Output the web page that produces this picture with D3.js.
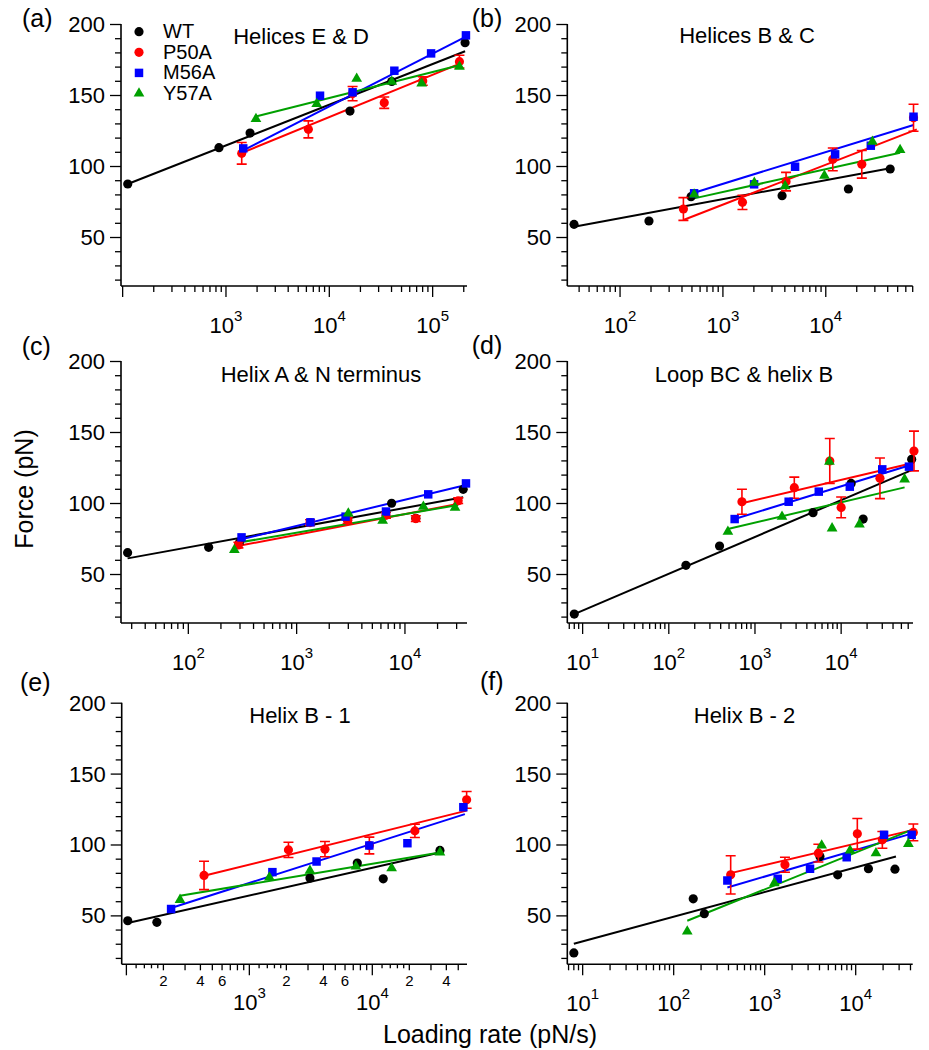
<!DOCTYPE html>
<html>
<head>
<meta charset="utf-8">
<script src="https://cdn.jsdelivr.net/npm/d3@7"></script>
<style>
  html, body { margin: 0; padding: 0; background: #fff; }
  svg { display: block; font-family: "Liberation Sans", Arial, Helvetica, sans-serif; }
</style>
</head>
<body>
<svg id="chart" width="929" height="1050"></svg>
<script>
// ---------------- data ----------------
const SERIES = ["WT", "P50A", "M56A", "Y57A"];
const COLORS = ["#000000", "#ff0000", "#0000ff", "#00a000"];
const SHAPES = ["circle", "circle", "square", "triangle"];

const PANEL_IDS = ["(a)", "(b)", "(c)", "(d)", "(e)", "(f)"];
const PANEL_TITLES = ["Helices E & D", "Helices B & C", "Helix A & N terminus",
                      "Loop BC & helix B", "Helix B - 1", "Helix B - 2"];
const X_DOMAINS = [[96.4, 2.15e5], [30.7, 7.0e4], [23.9, 3.74e4],
                   [6.64, 6.82e4], [91.6, 5.89e4], [6.78, 4.23e4]];
const Y_DOMAIN = [15.5, 200];
const Y_TICK_LABELS = [50, 100, 150, 200];
const X_TICK_LABELS = [[1e3, 1e4, 1e5], [1e2, 1e3, 1e4], [1e2, 1e3, 1e4],
                       [1e1, 1e2, 1e3, 1e4], [1e3, 1e4], [1e1, 1e2, 1e3, 1e4]];
const E_MINOR_LABELS = [200, 400, 600, 2000, 4000, 6000, 20000, 40000];

// points: [loading rate, force, error]
const A_WT   = [[112, 87.3], [855, 112.9], [1710, 123.2], [15850, 138.7], [40200, 159.5], [206000, 186.8]];
const A_P50A = [[1420, 108.9, 7.6], [6270, 125.8, 6], [16800, 151, 5], [34000, 144.6, 4], [80200, 159.9, 3], [181600, 173.5, 4.5]];
const A_M56A = [[1470, 112.4], [8130, 149.5], [16800, 151.9], [42600, 167.1], [96600, 179.3], [210000, 192]];
const A_Y57A = [[1950, 133.1], [7550, 143.7], [18400, 161.5], [40200, 159.4], [78300, 158.2], [181600, 170]];
const A_FIT  = [[[112, 87.3], [206000, 180.8]], [[1390, 108.9], [186000, 172.3]],
                [[1390, 110.1], [210000, 191.1]], [[1900, 134.7], [186000, 171.1]]];

const B_WT   = [[35.7, 58.9], [191, 61.3], [490, 78.4], [3760, 79.1], [16600, 83.8], [42300, 97.9]];
const B_P50A = [[413, 69.7, 8], [1549, 74.4, 5], [4110, 89, 6.5], [11700, 104.7, 8], [22400, 101.2, 9.7], [71300, 134, 9.5]];
const B_M56A = [[525, 80.8], [2010, 87.1], [5030, 99.5], [12330, 108.2], [27400, 114.3], [71300, 134.7]];
const B_Y57A = [[525, 80], [2020, 88.2], [4030, 85.9], [9700, 93.2], [28400, 117.1], [52800, 111.3]];
const B_FIT  = [[[35.7, 57.3], [42300, 98.4]], [[413, 62], [76700, 125.8]],
                [[525, 81.2], [71300, 128.9]], [[525, 77.2], [52800, 109.4]]];

const C_WT   = [[27.5, 65], [154, 68.8], [296, 72.1], [2960, 88], [7530, 99.8], [12600, 89.2], [34500, 109.6]];
const C_P50A = [[290, 70.4, 2], [1330, 86.2, 2], [2960, 87.6, 2], [6680, 91.3, 2], [12600, 89, 2], [31000, 101.6, 2]];
const C_M56A = [[310, 75.8], [1340, 86.4], [2830, 90.4], [6680, 94], [16400, 106.1], [36600, 113.8]];
const C_Y57A = [[266, 66.9], [3000, 92.7], [6220, 87.6], [14800, 97.4], [29000, 96.7]];
const C_FIT  = [[[27.5, 61], [34500, 104]], [[270, 69.3], [33300, 99.8]],
                [[290, 74], [36600, 112.7]], [[266, 71.6], [31000, 98.6]]];

const D_WT   = [[8, 21.8], [158, 56.1], [388, 69.7], [4720, 93.2], [13060, 113.8], [18000, 88.7], [65800, 130.8]];
const D_P50A = [[706, 100.9, 8.8], [2860, 110.8, 7.4], [7380, 129.6, 15.8], [10000, 96.9, 7.3], [28200, 117.4, 14.3], [70000, 136.6, 14]];
const D_M56A = [[581, 88.7], [2460, 100.9], [5500, 108], [12600, 111.5], [30000, 123.7], [61200, 125.6]];
const D_Y57A = [[485, 79.8], [2060, 90.4], [7310, 129.1], [7850, 82.2], [16300, 85], [54500, 116.7]];
const D_FIT  = [[[8, 21.8], [65800, 123.2]], [[706, 99.8], [70000, 128.4]],
                [[581, 88.7], [64000, 126.8]], [[485, 81.7], [54500, 111]]];

const E_WT   = [[102.6, 46.2], [177, 45.1], [3110, 76.3], [7550, 86.9], [12270, 75.8], [35500, 95.8]];
const E_P50A = [[428, 78.2, 10], [2080, 96.2, 5.4], [4120, 96.7, 5.4], [9460, 99.3, 5.9], [22200, 109.6, 4.7], [58500, 131.5, 5.9]];
const E_M56A = [[231, 54.5], [1540, 80.5], [3520, 88], [9460, 99.3], [19300, 100.9], [55000, 126.3]];
const E_Y57A = [[273, 61], [1455, 76.8], [3110, 81.5], [7360, 84.5], [14360, 83.3], [35500, 94.4]];
const E_FIT  = [[[102.6, 44.6], [35500, 94.4]], [[428, 77.9], [58500, 123.9]],
                [[231, 55.2], [56600, 121.4]], [[273, 63.8], [35500, 94.4]]];

const F_WT   = [[8, 23.5], [164, 61.7], [217, 51.2], [4050, 91.5], [6340, 78.6], [13800, 82.9], [27000, 82.6]];
const F_P50A = [[423, 78.6, 13.5], [1670, 85.7, 5.3], [3890, 93.9, 6.3], [10420, 107.5, 10.8], [19630, 103.3, 5.9], [43000, 108.5, 5.9]];
const F_M56A = [[389, 74.6], [1390, 75.8], [3150, 82.9], [7960, 91], [20500, 106.8], [41200, 106.8]];
const F_Y57A = [[141, 38.7], [1277, 72.8], [4230, 99.3], [8670, 95.8], [16700, 93.9], [37900, 100.5]];
const F_FIT  = [[[8, 30], [27700, 91.5]], [[423, 79.8], [43000, 110.3]],
                [[389, 69.7], [43000, 108]], [[141, 46.2], [41200, 110.3]]];

const PANEL_DATA = [
  [A_WT, A_P50A, A_M56A, A_Y57A], [B_WT, B_P50A, B_M56A, B_Y57A], [C_WT, C_P50A, C_M56A, C_Y57A],
  [D_WT, D_P50A, D_M56A, D_Y57A], [E_WT, E_P50A, E_M56A, E_Y57A], [F_WT, F_P50A, F_M56A, F_Y57A]];
const PANEL_FITS = [A_FIT, B_FIT, C_FIT, D_FIT, E_FIT, F_FIT];

// ---------------- layout ----------------
const LAYOUT = [
  {l: 121,   r: 467,   t: 24,    b: 286,   lx: 22,    ly: 27,    tx: 301,   ty: 44},
  {l: 567.3, r: 912.7, t: 24,    b: 286,   lx: 471.7, ly: 27,    tx: 747,   ty: 43},
  {l: 121,   r: 467,   t: 361,   b: 623,   lx: 21.7,  ly: 355,   tx: 321,   ty: 382},
  {l: 567.3, r: 913,   t: 361,   b: 623,   lx: 471.7, ly: 354,   tx: 744,   ty: 382},
  {l: 121.7, r: 467,   t: 702.7, b: 964.3, lx: 20,    ly: 690.7, tx: 300,   ty: 723},
  {l: 567.3, r: 912.7, t: 702.7, b: 964.3, lx: 480,   ly: 690,   tx: 744.5, ty: 723}
];

const svg = d3.select("#chart");
const FONT = 22;

function symbolFor(shape) {
  if (shape === "square") return d3.symbol(d3.symbolSquare, 72)();
  if (shape === "triangle") return d3.symbol(d3.symbolTriangle, 50)();
  return d3.symbol(d3.symbolCircle, 66)();
}

PANEL_DATA.forEach((series, pi) => {
  const L = LAYOUT[pi];
  const x = d3.scaleLog().domain(X_DOMAINS[pi]).range([L.l, L.r]);
  const y = d3.scaleLinear().domain(Y_DOMAIN).range([L.b, L.t]);
  const g = svg.append("g");

  // ---- y axis ----
  const yAxis = d3.axisLeft(y)
    .tickValues(d3.range(20, 201, 10))
    .tickSizeOuter(0)
    .tickSize(6)
    .tickFormat(d => Y_TICK_LABELS.includes(d) ? d : "");
  const ya = g.append("g").attr("transform", `translate(${L.l},0)`).call(yAxis);
  ya.select(".domain").attr("d", `M0,${L.t}V${L.b}`).attr("stroke-width", 1.6);
  ya.selectAll(".tick line").attr("stroke-width", 1.3)
    .attr("x2", d => Y_TICK_LABELS.includes(d) ? -11 : -6);
  ya.selectAll(".tick text").attr("x", -16).attr("dy", null).attr("y", 7.5)
    .attr("font-size", FONT).attr("fill", "#000").attr("font-family", null);
  ya.attr("font-family", null);

  // ---- x axis ----
  const [d0, d1] = X_DOMAINS[pi];
  const ticks = [];
  for (let n = Math.floor(Math.log10(d0)); n <= Math.ceil(Math.log10(d1)); n++) {
    const ks = pi === 4 ? [1, 1.2, 1.4, 1.6, 1.8, 2, 3, 4, 5, 6, 7, 8, 9] : [1, 2, 3, 4, 5, 6, 7, 8, 9];
    ks.forEach(k => {
      const v = k * Math.pow(10, n);
      if (v >= d0 && v <= d1) ticks.push({v, k});
    });
  }
  const xa = g.append("g");
  xa.append("line").attr("x1", L.l).attr("x2", L.r).attr("y1", L.b).attr("y2", L.b)
    .attr("stroke", "#000").attr("stroke-width", 1.6);
  xa.selectAll("line.tk").data(ticks).join("line").attr("class", "tk")
    .attr("x1", d => x(d.v)).attr("x2", d => x(d.v))
    .attr("y1", L.b).attr("y2", d => L.b + (d.k === 1 ? 11 : (d.k % 1 !== 0 ? 4 : 6)))
    .attr("stroke", "#000").attr("stroke-width", 1.3);

  const majorY = L.b + (pi === 4 ? 46 : 47);
  const lab = xa.selectAll("text.maj").data(X_TICK_LABELS[pi]).join("text").attr("class", "maj")
    .attr("x", d => x(d)).attr("y", majorY).attr("text-anchor", "middle")
    .attr("font-size", FONT).attr("fill", "#000");
  lab.append("tspan").text("10");
  lab.append("tspan").attr("dy", -12).attr("font-size", 15).text(d => Math.round(Math.log10(d)));

  if (pi === 4) {
    xa.selectAll("text.mnr").data(E_MINOR_LABELS).join("text").attr("class", "mnr")
      .attr("x", d => x(d)).attr("y", L.b + 21.5).attr("text-anchor", "middle")
      .attr("font-size", 15).attr("fill", "#000")
      .text(d => Math.round(d / Math.pow(10, Math.floor(Math.log10(d)))));
  }

  // ---- fit lines ----
  const line = d3.line().x(d => x(d[0])).y(d => y(d[1]));
  PANEL_FITS[pi].forEach((f, si) => {
    g.append("path").attr("d", line(f)).attr("fill", "none")
      .attr("stroke", COLORS[si]).attr("stroke-width", 2);
  });

  // ---- points ----
  series.forEach((pts, si) => {
    const sg = g.append("g");
    pts.filter(p => p.length > 2).forEach(p => {
      const cx = x(p[0]), y1 = y(p[1] - p[2]), y2 = y(p[1] + p[2]);
      sg.append("path")
        .attr("d", `M${cx},${y1}V${y2}M${cx - 5},${y1}H${cx + 5}M${cx - 5},${y2}H${cx + 5}`)
        .attr("stroke", COLORS[si]).attr("stroke-width", 1.6).attr("fill", "none");
    });
    sg.selectAll("path.pt").data(pts).join("path").attr("class", "pt")
      .attr("d", symbolFor(SHAPES[si]))
      .attr("transform", d => `translate(${x(d[0])},${y(d[1])})`)
      .attr("fill", COLORS[si]);
  });

  // ---- panel id + title ----
  g.append("text").attr("x", L.lx).attr("y", L.ly).attr("font-size", 25).attr("fill", "#000")
    .text(PANEL_IDS[pi]);
  g.append("text").attr("x", L.tx).attr("y", L.ty).attr("text-anchor", "middle")
    .attr("font-size", FONT).attr("fill", "#000").text(PANEL_TITLES[pi]);
});

// ---- legend (panel a) ----
const leg = svg.append("g");
SERIES.forEach((s, i) => {
  const yy = 31.7 + i * 20.6;
  leg.append("path").attr("d", symbolFor(SHAPES[i]))
    .attr("transform", `translate(139,${yy})`).attr("fill", COLORS[i]);
  leg.append("text").attr("x", 163).attr("y", yy + 6.5).attr("font-size", 20)
    .attr("fill", "#000").text(s);
});

// ---- axis titles ----
svg.append("text").attr("transform", "translate(33,489) rotate(-90)")
  .attr("text-anchor", "middle").attr("font-size", 25).attr("fill", "#000").text("Force (pN)");
svg.append("text").attr("x", 490).attr("y", 1043).attr("text-anchor", "middle")
  .attr("font-size", 25).attr("fill", "#000").text("Loading rate (pN/s)");
</script>
</body>
</html>
